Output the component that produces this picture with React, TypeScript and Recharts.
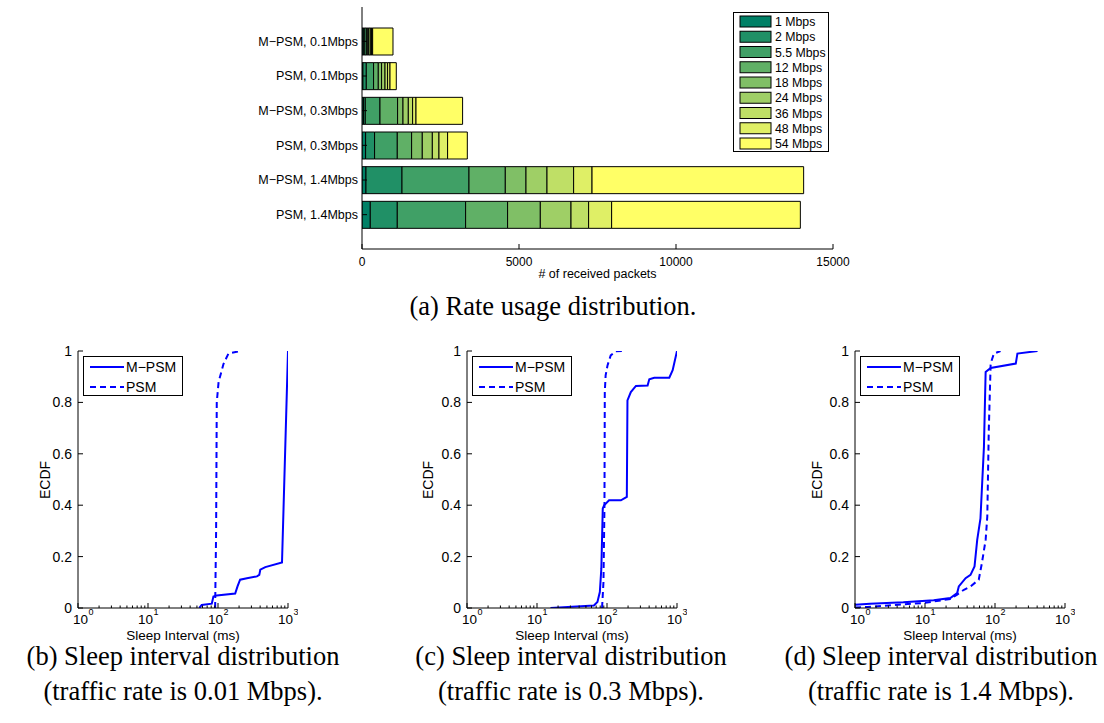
import React from "react";
import { BarChart, Bar, XAxis, YAxis, Legend, LineChart, Line } from "recharts";

const sans = "'Liberation Sans', Arial, Helvetica, sans-serif";
const serif = "'Liberation Serif', 'Times New Roman', serif";

// ---- (a) rate usage ----
const rateLabels = ["1 Mbps", "2 Mbps", "5.5 Mbps", "12 Mbps", "18 Mbps", "24 Mbps", "36 Mbps", "48 Mbps", "54 Mbps"];
const rateColors = ["#008066", "#209066", "#40a066", "#60b066", "#80bf66", "#9fcf66", "#bfdf66", "#dfef66", "#ffff66"];
const scenarios = ["M−PSM, 0.1Mbps", "PSM, 0.1Mbps", "M−PSM, 0.3Mbps", "PSM, 0.3Mbps", "M−PSM, 1.4Mbps", "PSM, 1.4Mbps"];

const mpsm01 = [40, 33, 64, 32, 43, 53, 40, 34, 648];
const psm01 = [30, 107, 232, 150, 105, 109, 82, 77, 200];
const mpsm03 = [50, 55, 468, 561, 172, 169, 137, 108, 1484];
const psm03 = [115, 286, 723, 456, 340, 320, 212, 274, 628];
const mpsm14 = [127, 1147, 2134, 1156, 659, 669, 848, 586, 6739];
const psm14 = [264, 860, 2176, 1337, 1042, 978, 560, 733, 6010];
const packetCounts = [mpsm01, psm01, mpsm03, psm03, mpsm14, psm14];
const packetTicks = [0, 5000, 10000, 15000];

// ---- (b)-(d) sleep interval ECDF ----
const bMpsmX = [54, 58.6, 81.5, 86, 96, 176, 190, 207, 259, 360, 389, 402, 474, 821, 1000];
const bMpsmY = [0, 0.012, 0.017, 0.045, 0.049, 0.056, 0.084, 0.11, 0.116, 0.123, 0.129, 0.149, 0.159, 0.177, 1];
const bPsmX = [91, 94, 96, 102, 120, 141, 207];
const bPsmY = [0, 0.3, 0.8, 0.88, 0.95, 0.99, 1];

const cMpsmX = [15.6, 65, 73, 79, 83, 87, 91, 107, 158, 192, 196, 219, 259, 380, 402, 473, 776, 867, 1000];
const cMpsmY = [0, 0.01, 0.023, 0.062, 0.153, 0.387, 0.4, 0.419, 0.419, 0.432, 0.808, 0.84, 0.864, 0.866, 0.89, 0.896, 0.896, 0.925, 1];
const cPsmX = [85, 89, 92, 93, 95.6, 101.7, 113, 133, 176];
const cPsmY = [0, 0.1, 0.4, 0.84, 0.905, 0.944, 0.983, 0.999, 1];

const dMpsmX = [1, 1.64, 4.9, 13.3, 23, 28.8, 30.4, 38, 44.7, 51, 55.7, 62, 69.5, 73.5, 86.7, 198, 209, 405];
const dMpsmY = [0.013, 0.017, 0.022, 0.03, 0.039, 0.058, 0.084, 0.116, 0.129, 0.162, 0.265, 0.349, 0.627, 0.918, 0.934, 0.951, 0.99, 1];
const dPsmX = [1, 1.5, 3, 10, 23, 28.8, 36, 44.7, 58.6, 65, 73.5, 77.6, 81.5, 86.7, 96.4, 120];
const dPsmY = [0.002, 0.004, 0.01, 0.02, 0.035, 0.052, 0.071, 0.084, 0.11, 0.175, 0.265, 0.356, 0.692, 0.951, 0.99, 1];

const logTicks = [1, 2, 3, 4, 5, 6, 7, 8, 9, 10, 20, 30, 40, 50, 60, 70, 80, 90, 100, 200, 300, 400, 500, 600, 700, 800, 900, 1000];
const ecdfTicks = [0, 0.2, 0.4, 0.6, 0.8, 1];

const toPoints = (xs: number[], ys: number[]) => xs.map((x, i) => ({ x, y: ys[i] }));

const rateData = scenarios.map((name, i) => {
  const row: Record<string, any> = { name };
  rateLabels.forEach((r, j) => (row[r] = packetCounts[i][j]));
  return row;
});

const RateLegend = () => (
  <div style={{ width: 94, height: 138, border: "1px solid #000", background: "#fff" }}>
    <svg width={94} height={138}>
      {rateLabels.map((r, i) => (
        <g key={r}>
          <rect x={6} y={3 + i * 15.25} width={31} height={11} fill={rateColors[i]} stroke="#000" />
          <text x={41} y={13 + i * 15.25} fontSize={12.3} fill="#000" fontFamily={sans}>{r}</text>
        </g>
      ))}
    </svg>
  </div>
);

const RateChart = () => (
  <div style={{ position: "absolute", left: 0, top: 0, width: 860, height: 290, fontFamily: sans }}>
    <BarChart width={860} height={290} data={rateData} layout="vertical" margin={{ top: 7, right: 27, left: 212, bottom: 0 }}>
      <XAxis type="number" domain={[0, 15000]} ticks={packetTicks} allowDataOverflow interval={0} height={41}
        stroke="#000" tickSize={-5} tickMargin={13} tick={{ fontSize: 12, fill: "#000" }}
        label={{ value: "# of received packets", position: "insideBottom", offset: 12, fontSize: 12.5, fill: "#000" }} />
      <XAxis xAxisId="top" orientation="top" type="number" domain={[0, 15000]} ticks={packetTicks} allowDataOverflow
        interval={0} height={0} stroke="#000" tickSize={-5} tick={false} />
      <YAxis type="category" dataKey="name" width={150} padding={{ top: 17, bottom: 17 }} stroke="#000"
        tickSize={-5} tickMargin={9} interval={0} tick={{ fontSize: 12.5, fill: "#000" }} />
      <YAxis yAxisId="right" orientation="right" type="category" dataKey="name" width={0} padding={{ top: 17, bottom: 17 }}
        stroke="#000" tickSize={-5} tick={false} interval={0} />
      {rateLabels.map((r, j) => (
        <Bar key={r} dataKey={r} stackId="a" fill={rateColors[j]} stroke="#000" strokeWidth={1} barSize={27} isAnimationActive={false} />
      ))}
      <Legend layout="horizontal" verticalAlign="middle" align="center" content={() => <RateLegend />}
        wrapperStyle={{ left: 733, top: 12, width: 96 }} />
    </BarChart>
  </div>
);

const isMajor = (v: number) => v === 1 || v === 10 || v === 100 || v === 1000;

const LogTickBottom = (props: any) => {
  const { x, y, payload } = props;
  const v = payload.value;
  const major = isMajor(v);
  // nudge the first label right so it clears the "0" of the y axis
  const dx = v === 1 ? 5 : 0;
  return (
    <g>
      <line x1={x} x2={x} y1={y} y2={y - (major ? 5 : 2.5)} stroke="#000" />
      {major && (
        <>
          <text x={x + 5 + dx} y={y + 16} textAnchor="end" fontSize={13.5} fill="#000" fontFamily={sans}>10</text>
          <text x={x + 5.5 + dx} y={y + 7} fontSize={9} fill="#000" fontFamily={sans}>{Math.round(Math.log10(v))}</text>
        </>
      )}
    </g>
  );
};

const LogTickTop = (props: any) => {
  const { x, y, payload } = props;
  const major = isMajor(payload.value);
  return <line x1={x} x2={x} y1={y} y2={y + (major ? 5 : 2.5)} stroke="#000" />;
};

const EcdfLegend = () => (
  <div style={{ width: 98, height: 38, border: "1px solid #000", background: "#fff" }}>
    <svg width={98} height={38}>
      <line x1={6} x2={40} y1={10} y2={10} stroke="#0000ff" strokeWidth={2} />
      <line x1={6} x2={40} y1={30} y2={30} stroke="#0000ff" strokeWidth={2} strokeDasharray="6 4" />
      <text x={42} y={15} fontSize={14} fill="#000" fontFamily={sans}>M−PSM</text>
      <text x={42} y={35} fontSize={14} fill="#000" fontFamily={sans}>PSM</text>
    </svg>
  </div>
);

interface EcdfProps {
  plotLeft: number;
  ylabelOffset: number;
  mpsm: { x: number; y: number }[];
  psm: { x: number; y: number }[];
}

const EcdfChart: React.FC<EcdfProps> = ({ plotLeft, ylabelOffset, mpsm, psm }) => (
  <>
    <div style={{ position: "absolute", left: plotLeft - 60, top: 340, width: 280, height: 306, fontFamily: sans }}>
      <LineChart width={280} height={306} margin={{ top: 11, right: 10, left: 0, bottom: 0 }}>
        <XAxis xAxisId="b" dataKey="x" type="number" scale="log" domain={[1, 1000]} allowDataOverflow ticks={logTicks}
          interval={0} height={38} stroke="#000" tickLine={false} tickSize={0} tickMargin={0} tick={<LogTickBottom />}
          label={{ value: "Sleep Interval (ms)", position: "insideBottom", offset: 6, fontSize: 13.5, fill: "#000" }} />
        <XAxis xAxisId="t" orientation="top" dataKey="x" type="number" scale="log" domain={[1, 1000]} allowDataOverflow
          ticks={logTicks} interval={0} height={0} stroke="#000" tickLine={false} tickSize={0} tickMargin={0} tick={<LogTickTop />} />
        <YAxis yAxisId="l" type="number" domain={[0, 1]} ticks={ecdfTicks} allowDataOverflow interval={0} width={60}
          stroke="#000" tickSize={-5} tickMargin={11} tick={{ fontSize: 14, fill: "#000" }} />
        <YAxis yAxisId="r" orientation="right" type="number" domain={[0, 1]} ticks={ecdfTicks} allowDataOverflow interval={0}
          width={0} stroke="#000" tickSize={-5} tick={false} />
        <Line xAxisId="b" yAxisId="l" data={mpsm} dataKey="y" name="M−PSM" stroke="#0000ff" strokeWidth={2} dot={false} isAnimationActive={false} />
        <Line xAxisId="b" yAxisId="l" data={psm} dataKey="y" name="PSM" stroke="#0000ff" strokeWidth={2} strokeDasharray="6 4" dot={false} isAnimationActive={false} />
        <Legend layout="horizontal" verticalAlign="middle" align="center" content={() => <EcdfLegend />}
          wrapperStyle={{ left: 65, top: 16, width: 100 }} />
      </LineChart>
    </div>
    <div style={{ position: "absolute", left: plotLeft - ylabelOffset - 40, top: 470, width: 80, height: 20, lineHeight: "20px",
      textAlign: "center", fontFamily: sans, fontSize: 14, transform: "rotate(-90deg)" }}>ECDF</div>
  </>
);

const Caption: React.FC<{ cx: number; top: number; lines: string[] }> = ({ cx, top, lines }) => (
  <>
    {lines.map((l, i) => (
      <div key={l} style={{ position: "absolute", left: cx - 250, top: top + i * 35, width: 500, height: 26, textAlign: "center",
        fontFamily: serif, fontSize: 26.5, lineHeight: "26px", color: "#000", whiteSpace: "nowrap" }}>{l}</div>
    ))}
  </>
);

export default function App() {
  return (
    <div style={{ position: "absolute", left: 0, top: 0, width: 1104, height: 723, background: "#fff", overflow: "hidden" }}>
      <RateChart />
      <Caption cx={553} top={293} lines={["(a) Rate usage distribution."]} />
      <EcdfChart plotLeft={78} ylabelOffset={33} mpsm={toPoints(bMpsmX, bMpsmY)} psm={toPoints(bPsmX, bPsmY)} />
      <EcdfChart plotLeft={467} ylabelOffset={39} mpsm={toPoints(cMpsmX, cMpsmY)} psm={toPoints(cPsmX, cPsmY)} />
      <EcdfChart plotLeft={855} ylabelOffset={38} mpsm={toPoints(dMpsmX, dMpsmY)} psm={toPoints(dPsmX, dPsmY)} />
      <Caption cx={183} top={643} lines={["(b) Sleep interval distribution", "(traffic rate is 0.01 Mbps)."]} />
      <Caption cx={571} top={643} lines={["(c) Sleep interval distribution", "(traffic rate is 0.3 Mbps)."]} />
      <Caption cx={941} top={643} lines={["(d) Sleep interval distribution", "(traffic rate is 1.4 Mbps)."]} />
    </div>
  );
}
